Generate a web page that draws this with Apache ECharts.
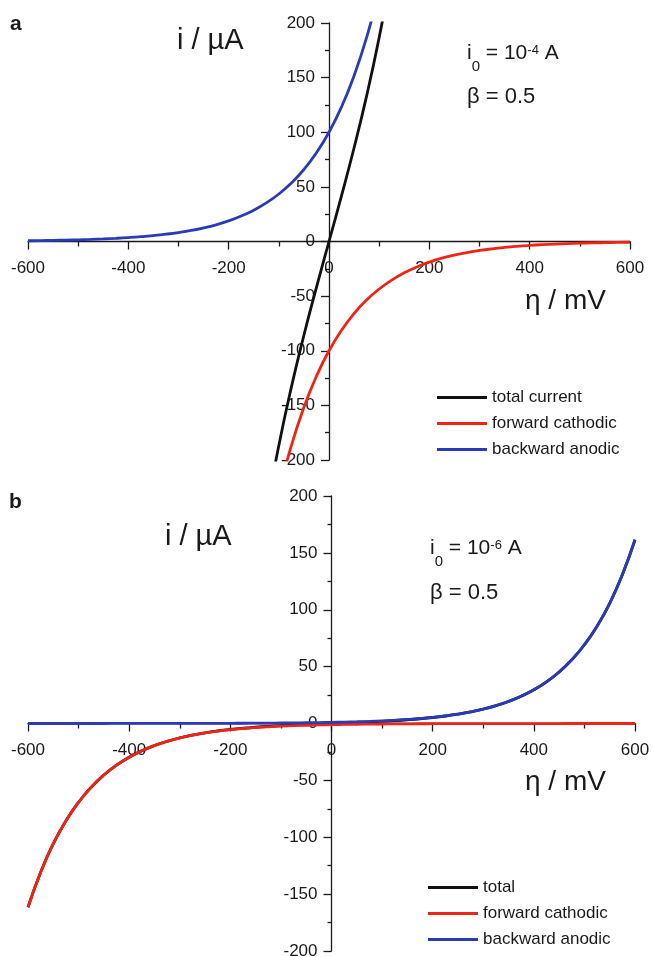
<!DOCTYPE html>
<html>
<head>
<meta charset="utf-8">
<script src="https://cdn.jsdelivr.net/npm/echarts@6/dist/echarts.min.js"></script>
<style>
  html, body { margin: 0; padding: 0; background: #fff; }
  #chart { width: 653px; height: 957px; }
</style>
</head>
<body>
<div id="chart"></div>
<script>
// Overpotential grid (mV)
const eta = [-600, -575, -550, -525, -500, -475, -450, -425, -400, -375, -350, -325,
  -300, -275, -250, -225, -200, -175, -150, -125, -100, -75, -50, -25, 0,
  25, 50, 75, 100, 125, 150, 175, 200, 225, 250, 275, 300, 325, 350, 375,
  400, 425, 450, 475, 500, 525, 550, 575, 600];

// Panel a: i0 = 1e-4 A (currents in µA); null = outside the plotted window
const totalA = [null, null, null, null, null, null, null, null, null, null, null, null,
  null, null, null, null, null, null, null, -248.1, -186.7, -133.3, -85.8, -42.0, 0,
  42.0, 85.8, 133.3, 186.7, 248.1, null, null, null, null, null, null, null, null, null, null,
  null, null, null, null, null, null, null, null, null];
const cathodicA = [null, null, null, null, null, null, null, null, null, null, null, null,
  null, null, null, null, null, null, null, -283.4, -230.1, -186.8, -151.7, -123.2, -100,
  -81.2, -65.9, -53.5, -43.5, -35.3, -28.7, -23.3, -18.9, -15.3, -12.5, -10.1, -8.21, -6.67, -5.41, -4.39,
  -3.57, -2.90, -2.35, -1.91, -1.55, -1.26, -1.02, -0.83, -0.67];
const anodicA = [0.67, 0.83, 1.02, 1.26, 1.55, 1.91, 2.35, 2.90, 3.57, 4.39, 5.41, 6.67,
  8.21, 10.1, 12.5, 15.3, 18.9, 23.3, 28.7, 35.3, 43.5, 53.5, 65.9, 81.2, 100,
  123.2, 151.7, 186.8, 230.1, 283.4, null, null, null, null, null, null, null, null, null, null,
  null, null, null, null, null, null, null, null, null];

// Panel b: i0 = 1e-6 A (currents in µA)
const totalB = [-161.5, -130.7, -105.7, -85.55, -69.21, -55.98, -45.29, -36.63, -29.63, -23.96, -19.37, -15.65,
  -12.63, -10.18, -8.199, -6.583, -5.262, -4.179, -3.285, -2.537, -1.906, -1.358, -0.873, -0.427, 0,
  0.427, 0.873, 1.358, 1.906, 2.537, 3.285, 4.179, 5.262, 6.583, 8.199, 10.18, 12.63, 15.65, 19.37, 23.96,
  29.63, 36.63, 45.29, 55.98, 69.21, 85.55, 105.7, 130.7, 161.5];
const cathodicB = [-161.5, -130.7, -105.7, -85.56, -69.22, -56.00, -45.31, -36.66, -29.66, -24.00, -19.42, -15.71,
  -12.71, -10.28, -8.319, -6.732, -5.446, -4.406, -3.565, -2.884, -2.334, -1.888, -1.528, -1.236, -1,
  -0.809, -0.655, -0.530, -0.428, -0.347, -0.280, -0.227, -0.184, -0.149, -0.120, -0.097, -0.079, -0.064, -0.052, -0.042,
  -0.034, -0.027, -0.022, -0.018, -0.014, -0.012, -0.0095, -0.0077, -0.0062];
const anodicB = [0.0062, 0.0077, 0.0095, 0.012, 0.014, 0.018, 0.022, 0.027, 0.034, 0.042, 0.052, 0.064,
  0.079, 0.097, 0.120, 0.149, 0.184, 0.227, 0.280, 0.347, 0.428, 0.530, 0.655, 0.809, 1,
  1.236, 1.528, 1.888, 2.334, 2.884, 3.565, 4.406, 5.446, 6.732, 8.319, 10.28, 12.71, 15.71, 19.42, 24.00,
  29.66, 36.66, 45.31, 56.00, 69.22, 85.56, 105.7, 130.7, 161.5];

const legendA = ['total current', 'forward cathodic', 'backward anodic'];
const legendB = ['total', 'forward cathodic', 'backward anodic'];

const FONT = '"Liberation Sans", Arial, sans-serif';
const INK = '#1a1a1a';
const C_TOTAL = '#111111';
const C_CATH = '#ee2416';
const C_ANOD = '#2a3bb5';

// plot rectangles (px); both value ranges are symmetric about zero,
// so the crossing axes sit at the middle of each rectangle
const GRIDS = [
  { left: 28, top: 23, width: 602, height: 437 },
  { left: 28, top: 496, width: 607, height: 455 }
];

const pairs = (ys) => eta.map((x, i) => [x, ys[i]]);

function xAxisCfg(gridIndex) {
  return {
    type: 'value', gridIndex, min: -600, max: 600, interval: 200,
    position: 'bottom', offset: -GRIDS[gridIndex].height / 2,
    axisLine: { onZero: false, lineStyle: { color: INK, width: 1.3 } },
    axisTick: { show: true, length: 8, lineStyle: { color: INK, width: 1.3 } },
    minorTick: { show: true, splitNumber: 2, length: 5, lineStyle: { color: INK, width: 1.3 } },
    axisLabel: { color: INK, fontSize: 17, fontFamily: FONT, margin: 18, hideOverlap: false },
    splitLine: { show: false }
  };
}
function yAxisCfg(gridIndex) {
  return {
    type: 'value', gridIndex, min: -200, max: 200, interval: 50,
    position: 'left', offset: -GRIDS[gridIndex].width / 2,
    axisLine: { onZero: false, lineStyle: { color: INK, width: 1.3 } },
    axisTick: { show: true, length: 8, lineStyle: { color: INK, width: 1.3 } },
    minorTick: { show: true, splitNumber: 2, length: 4, lineStyle: { color: INK, width: 1.3 } },
    axisLabel: { color: INK, fontSize: 17, fontFamily: FONT, margin: 14, hideOverlap: false },
    splitLine: { show: false }
  };
}
function line(name, data, color, idx) {
  return {
    type: 'line', name, data: pairs(data), xAxisIndex: idx, yAxisIndex: idx,
    smooth: true, symbol: 'none', connectNulls: false, clip: true,
    lineStyle: { color, width: 2.8 }, itemStyle: { color }
  };
}
function legendCfg(data, left, top) {
  return {
    data, left, top, orient: 'vertical', icon: 'rect',
    itemWidth: 50, itemHeight: 3, itemGap: 9, selectedMode: false,
    textStyle: { color: INK, fontSize: 17, fontFamily: FONT }
  };
}
const richI0 = {
  m: { fontSize: 21, lineHeight: 22, verticalAlign: 'top', fontFamily: FONT, fill: INK },
  sub: { fontSize: 15, lineHeight: 15, verticalAlign: 'top', padding: [16, 0, 0, 0], fontFamily: FONT, fill: INK },
  sup: { fontSize: 13, lineHeight: 13, verticalAlign: 'top', padding: [1, 0, 0, 0], fontFamily: FONT, fill: INK }
};
function txt(text, left, top, size, extra) {
  return {
    type: 'text', left, top, z: 10,
    style: Object.assign({ text, fill: INK, font: size + 'px ' + FONT }, extra || {})
  };
}

const chart = echarts.init(document.getElementById('chart'));
chart.setOption({
  backgroundColor: '#fff',
  animation: false,
  grid: GRIDS.map(g => Object.assign({ outerBoundsMode: 'none', containLabel: false }, g)),
  xAxis: [xAxisCfg(0), xAxisCfg(1)],
  yAxis: [yAxisCfg(0), yAxisCfg(1)],
  legend: [legendCfg(legendA, 432, 384), legendCfg(legendB, 423, 874)],
  series: [
    line('total current', totalA, C_TOTAL, 0),
    line('forward cathodic', cathodicA, C_CATH, 0),
    line('backward anodic', anodicA, C_ANOD, 0),
    line('total', totalB, C_TOTAL, 1),
    line('forward cathodic', cathodicB, C_CATH, 1),
    line('backward anodic', anodicB, C_ANOD, 1)
  ],
  graphic: [
    txt('a', 10, 14, 21, { font: 'bold 21px ' + FONT }),
    txt('i / µA', 177, 26, 29),
    { type: 'text', left: 467, top: 43,
      style: { text: '{m|i}{sub|0}{m| = 10}{sup|-4}{m| A}', rich: richI0, fill: INK } },
    txt('β = 0.5', 467, 86, 22),
    txt('η / mV', 525, 287, 28),

    txt('b', 9, 492, 21, { font: 'bold 21px ' + FONT }),
    txt('i / µA', 165, 522, 29),
    { type: 'text', left: 430, top: 538,
      style: { text: '{m|i}{sub|0}{m| = 10}{sup|-6}{m| A}', rich: richI0, fill: INK } },
    txt('β = 0.5', 430, 582, 22),
    txt('η / mV', 525, 768, 28)
  ]
});
</script>
</body>
</html>
